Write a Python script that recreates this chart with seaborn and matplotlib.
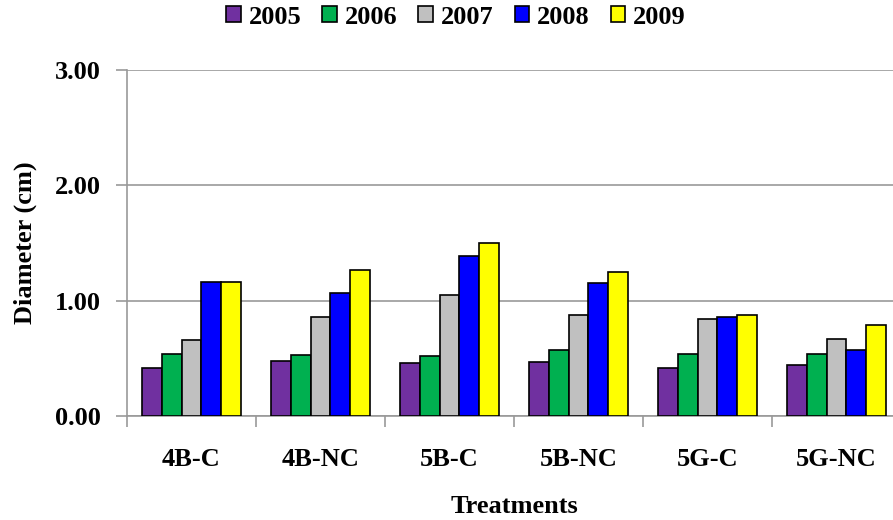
import matplotlib
matplotlib.use("Agg")
import matplotlib.pyplot as plt
import seaborn as sns
import pandas as pd
from matplotlib.patches import Patch

treatments = ["4B-C", "4B-NC", "5B-C", "5B-NC", "5G-C", "5G-NC"]
years = ["2005", "2006", "2007", "2008", "2009"]
v2005 = [0.42, 0.48, 0.46, 0.47, 0.42, 0.44]
v2006 = [0.54, 0.53, 0.52, 0.57, 0.54, 0.54]
v2007 = [0.66, 0.86, 1.05, 0.88, 0.84, 0.67]
v2008 = [1.16, 1.07, 1.39, 1.15, 0.86, 0.57]
v2009 = [1.16, 1.27, 1.50, 1.25, 0.88, 0.79]
colors = ["#7030A0", "#00B050", "#C0C0C0", "#0000FF", "#FFFF00"]

series = [v2005, v2006, v2007, v2008, v2009]
rows = []
for y, vals in zip(years, series):
    for t, v in zip(treatments, vals):
        rows.append({"Treatment": t, "Year": y, "Diameter": v})
df = pd.DataFrame(rows)

sns.set_theme(style="white")
plt.rcParams["font.family"] = ["Liberation Serif", "DejaVu Serif"]
plt.rcParams["font.weight"] = "bold"
plt.rcParams["text.color"] = "black"
plt.rcParams["axes.labelcolor"] = "black"

FS = 19

fig = plt.figure(figsize=(8.93, 5.20), dpi=100)
ax = fig.add_axes([127 / 893, 1 - 416 / 520, (901 - 127) / 893, (416 - 70) / 520])

sns.barplot(data=df, x="Treatment", y="Diameter", hue="Year", order=treatments,
            hue_order=years, palette=colors, width=0.775, edgecolor="black",
            linewidth=1.2, saturation=1, ax=ax, legend=False, zorder=3)

ax.set_ylim(0, 3)
ax.set_xlim(-0.5, 5.5)
ax.set_yticks([0, 1, 2, 3])
ax.set_yticklabels(["0.00", "1.00", "2.00", "3.00"], fontsize=FS, fontweight="bold")
ax.yaxis.grid(True, color="#999999", linewidth=1.2, zorder=0)
ax.set_axisbelow(True)

ax.set_xticks(range(len(treatments)))
ax.set_xticklabels(treatments, fontsize=FS, fontweight="bold")
ax.tick_params(axis="x", which="major", bottom=False, length=0, pad=23, labelcolor="black")
ax.set_xticks([i - 0.5 for i in range(len(treatments) + 1)], minor=True)
ax.tick_params(axis="x", which="minor", bottom=True, length=8, color="#999999", width=1.2, direction="out")
ax.tick_params(axis="y", left=True, length=8, color="#999999", width=1.2, direction="out", pad=11,
               labelcolor="black")

for s in ["top", "right"]:
    ax.spines[s].set_visible(False)
for s in ["left", "bottom"]:
    ax.spines[s].set_color("#999999")
    ax.spines[s].set_linewidth(1.2)

ax.set_xlabel("Treatments", fontsize=FS, fontweight="bold", labelpad=17)
ax.set_ylabel("Diameter (cm)", fontsize=FS, fontweight="bold", labelpad=13)

handles = [Patch(facecolor=c, edgecolor="black", linewidth=1.2, label=y) for c, y in zip(colors, years)]
fig.legend(handles=handles, loc="center", bbox_to_anchor=(456 / 893, 1 - 17 / 520), ncol=5,
           frameon=False, handlelength=0.55, handleheight=0.55, handletextpad=0.3,
           columnspacing=0.8, prop={"size": FS, "weight": "bold"})

fig.savefig("out.png", dpi=100)
